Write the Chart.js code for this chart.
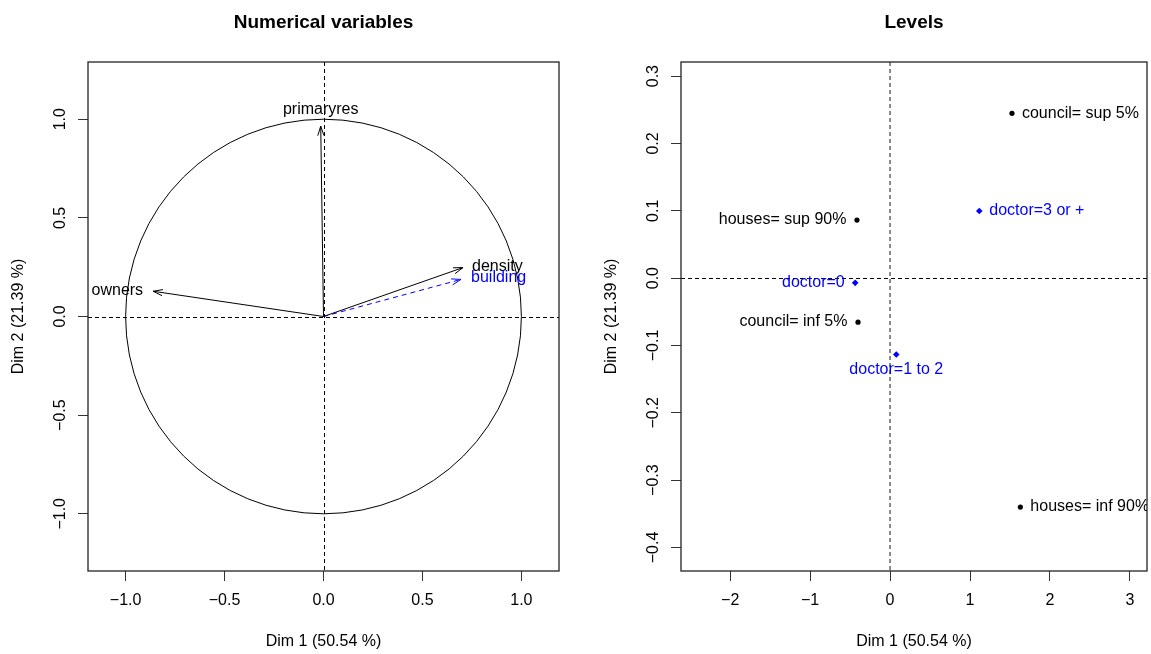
<!DOCTYPE html>
<html><head><meta charset="utf-8">
<script src="https://cdn.jsdelivr.net/npm/chart.js@4.4.1/dist/chart.umd.min.js"></script>
<style>
html,body{margin:0;padding:0;background:#fff;overflow:hidden}
#wrap{position:relative;width:1151px;height:654px;background:#fff}
canvas{position:absolute;top:0}
</style></head><body>
<div id="wrap">
<canvas id="c1" width="576" height="654" style="left:0"></canvas>
<canvas id="c2" width="575" height="654" style="left:576px"></canvas>
</div>
<script>
// ---------- data ----------
const leftTitle = 'Numerical variables';
const rightTitle = 'Levels';
const xAxisTitle = 'Dim 1 (50.54 %)';
const yAxisTitle = 'Dim 2 (21.39 %)';

// variables (arrows)
const varNames = ['primaryres', 'density', 'building', 'owners'];
const varDim1  = [-0.014, 0.705, 0.695, -0.861];
const varDim2  = [0.965, 0.248, 0.188, 0.128];
const varSupp  = [false, false, true, false];

// active levels (black)
const levNames = ['council= sup 5%', 'houses= sup 90%', 'council= inf 5%', 'houses= inf 90%'];
const levDim1  = [1.525, -0.414, -0.401, 1.630];
const levDim2  = [0.2447, 0.0862, -0.0654, -0.340];
const levPos   = [4, 2, 2, 4];

// supplementary levels (blue)
const suppNames = ['doctor=3 or +', 'doctor=0', 'doctor=1 to 2'];
const suppDim1  = [1.116, -0.436, 0.078];
const suppDim2  = [0.0996, -0.007, -0.1134];
const suppPos   = [4, 2, 1];

// tick labels
const leftXTicks  = [-1.0, -0.5, 0.0, 0.5, 1.0];
const leftYTicks  = [-1.0, -0.5, 0.0, 0.5, 1.0];
const rightXTicks = [-2, -1, 0, 1, 2, 3];
const rightYTicks = [-0.4, -0.3, -0.2, -0.1, 0.0, 0.1, 0.2, 0.3];

// ---------- styling ----------
const FONT = '"Liberation Sans", Arial, Helvetica, sans-serif';
const FS = 16;
const BLUE = '#0000FF';
const minus = s => s.replace('-', '\u2212');
const fmt1 = v => minus(Number(v).toFixed(1));
const fmt0 = v => minus(Number(v).toFixed(0));

const varLabelPlace = {
  primaryres: {dx: 0, dy: -17, align: 'center'},
  density:    {dx: 9, dy: -1, align: 'left'},
  building:   {dx: 10, dy: -1.5, align: 'left'},
  owners:     {dx: -10, dy: -1, align: 'right'}
};

function posOffset(pos) {
  if (pos === 1) return {dx: 0, dy: 15, align: 'center'};
  if (pos === 2) return {dx: -10.5, dy: -0.5, align: 'right'};
  if (pos === 3) return {dx: 0, dy: -15, align: 'center'};
  return {dx: 10, dy: 0, align: 'left'};
}

function makeScales(xmin, xmax, ymin, ymax, xt, yt, fx, fy, yW) {
  const common = {
    grid: {drawOnChartArea: false, drawTicks: true, tickLength: 10, color: '#333', lineWidth: 1},
    border: {display: false}
  };
  return {
    x: Object.assign({}, common, {
      type: 'linear', min: xmin, max: xmax,
      afterBuildTicks: s => { s.ticks = xt.map(v => ({value: v})); },
      afterFit: s => { s.height = 83; },
      ticks: {color: '#000', font: {family: FONT, size: FS}, padding: 10, minRotation: 0, maxRotation: 0, autoSkip: false, callback: v => fx(v)}
    }),
    y: Object.assign({}, common, {
      type: 'linear', min: ymin, max: ymax,
      afterBuildTicks: s => { s.ticks = yt.map(v => ({value: v})); },
      afterFit: s => { s.width = yW; },
      ticks: {color: '#000', font: {family: FONT, size: FS}, padding: 1.5, minRotation: 90, maxRotation: 90, crossAlign: 'center', autoSkip: false, callback: v => fy(v)}
    })
  };
}

function rPlugin(cfg) {
  return {
    id: 'rplot',
    beforeDatasetsDraw(chart) {
      const ctx = chart.ctx, a = chart.chartArea;
      const xs = chart.scales.x, ys = chart.scales.y;
      ctx.save();
      ctx.beginPath(); ctx.rect(a.left, a.top, a.right - a.left, a.bottom - a.top); ctx.clip();
      ctx.lineWidth = 1; ctx.strokeStyle = '#000'; ctx.setLineDash([4, 3]);
      const y0 = Math.round(ys.getPixelForValue(0)) + 0.5;
      ctx.beginPath(); ctx.moveTo(a.left, y0); ctx.lineTo(a.right, y0); ctx.stroke();
      const x0 = xs.getPixelForValue(0);
      if (cfg.greyV) { ctx.strokeStyle = '#6e6e6e'; ctx.lineWidth = 1.6; ctx.setLineDash([4, 3]); }
      const xv = cfg.greyV ? x0 : Math.round(x0) + 0.5;
      ctx.beginPath(); ctx.moveTo(xv, a.top); ctx.lineTo(xv, a.bottom); ctx.stroke();
      ctx.setLineDash([]);
      if (cfg.circle) {
        const cx = xs.getPixelForValue(0), cy = ys.getPixelForValue(0);
        const rx = xs.getPixelForValue(1) - cx, ry = cy - ys.getPixelForValue(1);
        ctx.strokeStyle = '#000'; ctx.lineWidth = 1;
        ctx.beginPath(); ctx.ellipse(cx, cy, rx, ry, 0, 0, Math.PI * 2); ctx.stroke();
      }
      ctx.restore();
    },
    afterDatasetsDraw(chart) {
      const ctx = chart.ctx, a = chart.chartArea;
      ctx.save();
      ctx.beginPath(); ctx.rect(a.left, a.top, a.right - a.left, a.bottom - a.top); ctx.clip();
      ctx.font = FS + 'px ' + FONT;
      ctx.textBaseline = 'middle';
      if (cfg.arrows) {
        chart.data.datasets.forEach((ds, i) => {
          const m = chart.getDatasetMeta(i);
          const p0 = m.data[0], p1 = m.data[1];
          const ang = Math.atan2(p1.y - p0.y, p1.x - p0.x);
          const L = 10, h = 18 * Math.PI / 180;
          ctx.strokeStyle = ds.borderColor; ctx.lineWidth = 1; ctx.setLineDash([]);
          ctx.beginPath();
          ctx.moveTo(p1.x - L * Math.cos(ang - h), p1.y - L * Math.sin(ang - h));
          ctx.lineTo(p1.x, p1.y);
          ctx.lineTo(p1.x - L * Math.cos(ang + h), p1.y - L * Math.sin(ang + h));
          ctx.stroke();
          const pl = varLabelPlace[ds.label] || {dx: 0, dy: -15, align: 'center'};
          ctx.fillStyle = ds.borderColor; ctx.textAlign = pl.align;
          ctx.fillText(ds.label, p1.x + pl.dx, p1.y + pl.dy);
        });
      }
      if (cfg.points) {
        chart.data.datasets.forEach((ds, i) => {
          const m = chart.getDatasetMeta(i);
          m.data.forEach((el, j) => {
            const o = posOffset(ds.pos[j]);
            ctx.fillStyle = ds.textColor; ctx.textAlign = o.align;
            ctx.fillText(ds.names[j], el.x + o.dx, el.y + o.dy);
          });
        });
      }
      ctx.restore();
      ctx.save();
      ctx.strokeStyle = '#222'; ctx.lineWidth = 1.3;
      ctx.strokeRect(a.left, a.top, a.right - a.left, a.bottom - a.top);
      ctx.restore();
    },
    afterDraw(chart) {
      const ctx = chart.ctx, a = chart.chartArea;
      const cx = (a.left + a.right) / 2, cy = (a.top + a.bottom) / 2;
      ctx.save();
      ctx.fillStyle = '#000';
      ctx.textAlign = 'center'; ctx.textBaseline = 'middle';
      ctx.font = 'bold 19px ' + FONT;
      ctx.fillText(cfg.title, cx, 23);
      ctx.font = FS + 'px ' + FONT;
      ctx.fillText(xAxisTitle, cx, 642);
      ctx.translate(a.left - 69, cy);
      ctx.rotate(-Math.PI / 2);
      ctx.fillText(yAxisTitle, 0, 0);
      ctx.restore();
    }
  };
}

Chart.defaults.font.family = FONT;
Chart.defaults.color = '#000';

// ---------- left chart: correlation circle ----------
new Chart(document.getElementById('c1'), {
  type: 'scatter',
  data: {
    datasets: varNames.map((n, i) => ({
      label: n,
      data: [{x: 0, y: 0}, {x: varDim1[i], y: varDim2[i]}],
      showLine: true,
      borderColor: varSupp[i] ? BLUE : '#000',
      borderWidth: 1,
      borderDash: varSupp[i] ? [5, 4] : [],
      pointRadius: 0,
      fill: false
    }))
  },
  options: {
    responsive: false, animation: false, devicePixelRatio: 1,
    layout: {padding: {top: 62, right: 17, left: 0, bottom: 0}},
    plugins: {legend: {display: false}, tooltip: {enabled: false}},
    scales: makeScales(-1.19, 1.19, -1.29, 1.29, leftXTicks, leftYTicks, fmt1, fmt1, 88)
  },
  plugins: [rPlugin({title: leftTitle, circle: true, arrows: true, greyV: false})]
});

// ---------- right chart: levels ----------
new Chart(document.getElementById('c2'), {
  type: 'scatter',
  data: {
    datasets: [
      {
        label: 'levels',
        data: levDim1.map((x, i) => ({x: x, y: levDim2[i]})),
        names: levNames, pos: levPos, textColor: '#000',
        pointStyle: 'circle', pointRadius: 2.6, backgroundColor: '#000', borderWidth: 0
      },
      {
        label: 'supplementary',
        data: suppDim1.map((x, i) => ({x: x, y: suppDim2[i]})),
        names: suppNames, pos: suppPos, textColor: BLUE,
        pointStyle: 'rectRot', pointRadius: 3.3, backgroundColor: BLUE, borderWidth: 0
      }
    ]
  },
  options: {
    responsive: false, animation: false, devicePixelRatio: 1,
    layout: {padding: {top: 62, right: 1, left: 0, bottom: 0}},
    plugins: {legend: {display: false}, tooltip: {enabled: false}},
    scales: makeScales(-2.615, 3.214, -0.435, 0.321, rightXTicks, rightYTicks, fmt0, fmt1, 105)
  },
  plugins: [rPlugin({title: rightTitle, circle: false, arrows: false, points: true, greyV: true})]
});
</script>
</body></html>
